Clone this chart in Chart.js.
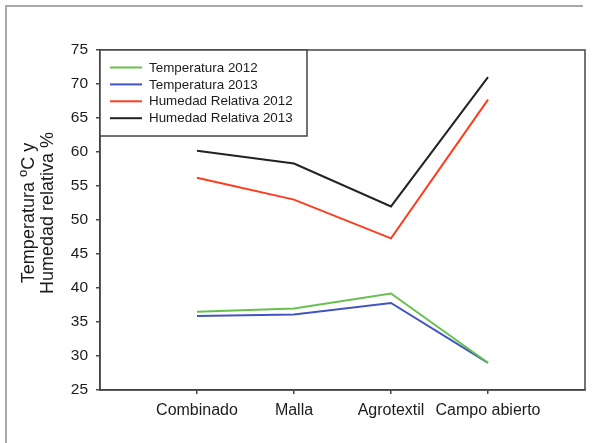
<!DOCTYPE html>
<html>
<head>
<meta charset="utf-8">
<script src="https://cdn.jsdelivr.net/npm/chart.js@4/dist/chart.umd.min.js"></script>
<style>
  html, body { margin: 0; padding: 0; background: #fff; }
  #wrap { position: relative; width: 592px; height: 443px; overflow: hidden; }
  #frame { position: absolute; left: 5px; top: 5px; width: 576px; height: 440px;
           border-top: 2px solid #a9a9a9; border-left: 2px solid #a9a9a9; }
  canvas { position: absolute; left: 0; top: 0; }
</style>
</head>
<body>
<div id="wrap">
  <div id="frame"></div>
  <canvas id="c" width="592" height="443"></canvas>
</div>
<script>
// Sites along the x axis
const categories = ['Combinado', 'Malla', 'Agrotextil', 'Campo abierto'];

// Series values (°C and % relative humidity)
const temp2012 = [36.5, 37.0, 39.2, 29.0];
const temp2013 = [35.9, 36.1, 37.8, 29.0];
const hum2012  = [56.2, 53.0, 47.3, 67.7];
const hum2013  = [60.2, 58.3, 52.0, 71.0];

// Y axis ticks
const yTicks = [25, 30, 35, 40, 45, 50, 55, 60, 65, 70, 75];

const seriesLabels = ['Temperatura 2012', 'Temperatura 2013', 'Humedad Relativa 2012', 'Humedad Relativa 2013'];
const seriesColors = ['#66c14f', '#4154c0', '#ff3b1e', '#222222'];
const seriesValues = [temp2012, temp2013, hum2012, hum2013];

const FONT = '"Liberation Sans", Arial, sans-serif';
const INK = '#1c1c1c';

const toPoints = vals => vals.map((v, i) => ({ x: i + 1, y: v }));

// Box around the plot area
const frameBox = {
  id: 'frameBox',
  afterDraw(chart) {
    const { ctx, chartArea: a } = chart;
    ctx.save();
    ctx.strokeStyle = '#444';
    ctx.lineWidth = 1.5;
    ctx.strokeRect(a.left, a.top, a.right - a.left, a.bottom - a.top);
    ctx.restore();
  }
};

// Legend drawn inside the top-left corner of the plot
const insideLegend = {
  id: 'insideLegend',
  afterDraw(chart) {
    const { ctx, chartArea: a } = chart;
    const w = 207, h = 86;
    ctx.save();
    ctx.fillStyle = '#fff';
    ctx.fillRect(a.left, a.top, w, h);
    ctx.strokeStyle = '#444';
    ctx.lineWidth = 1.5;
    ctx.strokeRect(a.left, a.top, w, h);
    ctx.font = '13.4px ' + FONT;
    ctx.textBaseline = 'middle';
    chart.data.datasets.forEach((ds, i) => {
      const y = a.top + 17.5 + i * 16.9;
      ctx.strokeStyle = ds.borderColor;
      ctx.lineWidth = 2;
      ctx.beginPath();
      ctx.moveTo(a.left + 10, y);
      ctx.lineTo(a.left + 42, y);
      ctx.stroke();
      ctx.fillStyle = INK;
      ctx.fillText(ds.label, a.left + 49, y + 0.5);
    });
    ctx.restore();
  }
};

// Two-line y axis title with a superscript "o" in "oC"
const yTitle = {
  id: 'yTitle',
  afterDraw(chart) {
    const { ctx, chartArea: a } = chart;
    const cy = (a.top + a.bottom) / 2 - 7;
    ctx.save();
    ctx.fillStyle = INK;
    ctx.textBaseline = 'middle';
    ctx.textAlign = 'left';

    // line 1: "Temperatura oC y"
    ctx.save();
    ctx.translate(29, cy);
    ctx.rotate(-Math.PI / 2);
    const big = '18px ' + FONT, small = '13px ' + FONT;
    ctx.font = big;
    const p1 = 'Temperatura ', p3 = 'C y';
    const w1 = ctx.measureText(p1).width;
    const w3 = ctx.measureText(p3).width;
    ctx.font = small;
    const w2 = ctx.measureText('o').width;
    let x = -(w1 + w2 + w3) / 2;
    ctx.font = big;
    ctx.fillText(p1, x, 0);
    x += w1;
    ctx.font = small;
    ctx.fillText('o', x, -6);
    x += w2;
    ctx.font = big;
    ctx.fillText(p3, x, 0);
    ctx.restore();

    // line 2: "Humedad relativa %"
    ctx.save();
    ctx.translate(48, cy);
    ctx.rotate(-Math.PI / 2);
    ctx.font = big;
    ctx.textAlign = 'center';
    ctx.fillText('Humedad relativa %', 0, 0);
    ctx.restore();

    ctx.restore();
  }
};

new Chart(document.getElementById('c'), {
  type: 'line',
  data: {
    datasets: seriesValues.map((vals, i) => ({
      label: seriesLabels[i],
      data: toPoints(vals),
      borderColor: seriesColors[i],
      backgroundColor: seriesColors[i],
      borderWidth: 2,
      pointRadius: 0,
      tension: 0,
      fill: false
    }))
  },
  options: {
    responsive: false,
    animation: false,
    devicePixelRatio: 1,
    layout: { padding: { top: 50, right: 7, bottom: 0, left: 0 } },
    plugins: { legend: { display: false }, tooltip: { enabled: false } },
    scales: {
      x: {
        type: 'linear',
        min: 0,
        max: 5,
        afterBuildTicks(scale) {
          scale.ticks = categories.map((_, i) => ({ value: i + 1 }));
        },
        afterFit(scale) { scale.height = 53; },
        ticks: {
          autoSkip: false,
          maxRotation: 0,
          padding: 7,
          color: INK,
          font: { family: FONT, size: 16 },
          callback: v => categories[v - 1]
        },
        grid: { drawOnChartArea: false, drawTicks: true, tickLength: 4, tickColor: '#444', lineWidth: 1.5 },
        border: { display: true, color: '#444', width: 1.5 }
      },
      y: {
        min: 25,
        max: 75,
        afterBuildTicks(scale) {
          scale.ticks = yTicks.map(v => ({ value: v }));
        },
        afterFit(scale) { scale.width = 100; },
        ticks: {
          padding: 8,
          color: INK,
          font: { family: FONT, size: 15.5 }
        },
        grid: { drawOnChartArea: false, drawTicks: true, tickLength: 4, tickColor: '#444', lineWidth: 1.5 },
        border: { display: true, color: '#444', width: 1.5 }
      }
    }
  },
  plugins: [frameBox, insideLegend, yTitle]
});
</script>
</body>
</html>
